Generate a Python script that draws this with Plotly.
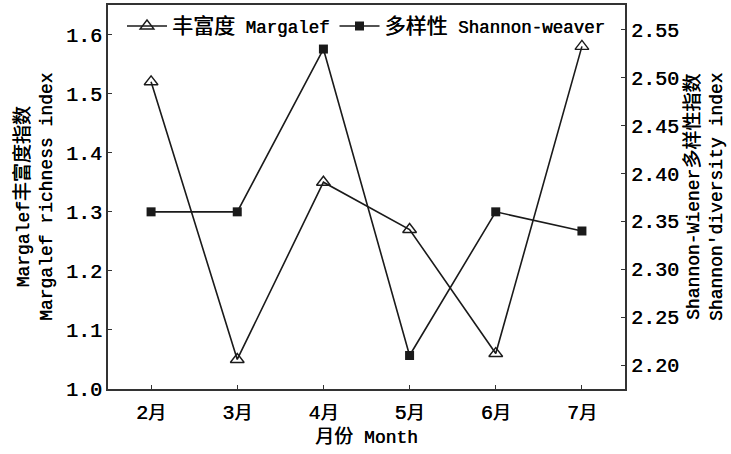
import plotly.graph_objects as go

months = ["2月", "3月", "4月", "5月", "6月", "7月"]
margalef = [1.52, 1.05, 1.35, 1.27, 1.06, 1.58]
shannon = [2.36, 2.36, 2.53, 2.21, 2.36, 2.34]
left_ticks = [1.0, 1.1, 1.2, 1.3, 1.4, 1.5, 1.6]
right_ticks = [2.20, 2.25, 2.30, 2.35, 2.40, 2.45, 2.50, 2.55]

FONT = "Liberation Mono, Noto Sans CJK SC, monospace"
SHADOW = "0.45px 0 0 #000"


def zh(s, size):
    return f"<span style='font-size:{size}px'>{s}</span>"


month_labels = [m[:-1] + zh("月", 18) for m in months]

fig = go.Figure()
fig.add_trace(go.Scatter(
    x=months, y=margalef, name=zh("丰富度", 21) + " Margalef", mode="lines+markers",
    line=dict(color="#1a1a1a", width=1.6),
    marker=dict(symbol="triangle-up-open", size=12, color="#1a1a1a", line=dict(width=1.4)),
))
fig.add_trace(go.Scatter(
    x=months, y=shannon, name=zh("多样性", 21) + " Shannon-weaver", mode="lines+markers",
    line=dict(color="#1a1a1a", width=1.6),
    marker=dict(symbol="square", size=9, color="#1a1a1a"),
    yaxis="y2",
))

axis_common = dict(showline=True, linecolor="#333", linewidth=2, ticks="inside",
                   ticklen=4, tickcolor="#333", tickwidth=1.2, showgrid=False,
                   zeroline=False, automargin=False,
                   tickfont=dict(family=FONT, size=20, color="#000", shadow=SHADOW))

fig.update_layout(
    width=731, height=454,
    margin=dict(l=108, r=106, t=5, b=65),
    paper_bgcolor="white", plot_bgcolor="white",
    font=dict(family=FONT, size=18, color="#000", shadow=SHADOW),
    showlegend=True,
    legend=dict(orientation="h", x=0.5, xanchor="center", y=0.945, yanchor="middle",
                bgcolor="rgba(0,0,0,0)", font=dict(size=17.5, shadow=SHADOW), itemwidth=40),
    xaxis=dict(**axis_common, type="category", range=[-0.5, 5.5], mirror=True,
               tickvals=months, ticktext=month_labels, ticklabelstandoff=4,
               title=dict(text=zh("月份", 19) + " Month", standoff=6,
                          font=dict(size=18, shadow=SHADOW))),
    yaxis=dict(**axis_common, range=[1.0, 1.65], tickvals=left_ticks,
               tickformat=".1f", mirror=False),
    yaxis2=dict(**axis_common, range=[2.175, 2.576], tickvals=right_ticks,
                tickformat=".2f", overlaying="y", side="right"),
    annotations=[
        dict(text="Margalef" + zh("丰富度指数", 19) + "<br>Margalef richness index",
             xref="paper", yref="paper", x=-0.143, y=0.5, xanchor="center", yanchor="middle",
             textangle=-90, showarrow=False, font=dict(size=18, shadow=SHADOW)),
        dict(text="Shannon-Wiener" + zh("多样性指数", 19) + "<br>Shannon'diversity index",
             xref="paper", yref="paper", x=1.153, y=0.5, xanchor="center", yanchor="middle",
             textangle=-90, showarrow=False, font=dict(size=18, shadow=SHADOW)),
    ],
)
fig.write_html("out.html", config={"displayModeBar": False},
               post_script="document.body.style.margin='0';")
